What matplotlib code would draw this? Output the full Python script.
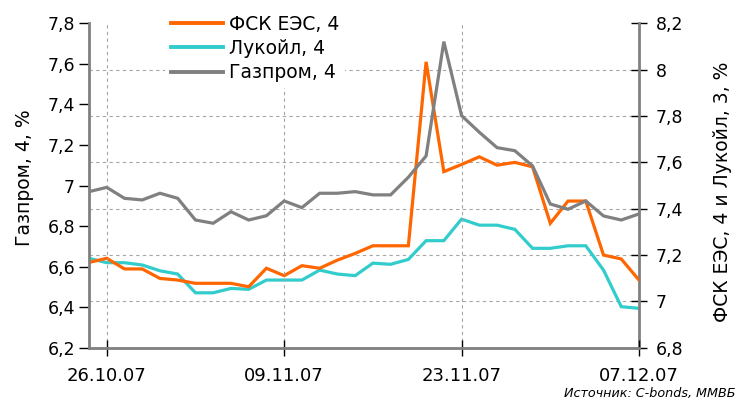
import matplotlib
matplotlib.use("Agg")
import matplotlib.pyplot as plt

plt.rcParams['font.family'] = ['DejaVu Sans']

# Trading days 25.10.07 .. 07.12.07 (32 points); ticks every 10 days
date_labels = ['26.10.07', '09.11.07', '23.11.07', '07.12.07']
tick_idx = [1, 11, 21, 31]

gazprom = [6.970, 6.991, 6.937, 6.929, 6.962, 6.937, 6.830, 6.814,
           6.871, 6.830, 6.851, 6.924, 6.891, 6.962, 6.962, 6.970,
           6.954, 6.954, 7.041, 7.146, 7.710, 7.345, 7.263, 7.187,
           7.172, 7.097, 6.909, 6.883, 6.924, 6.850, 6.830, 6.860]
fsk = [7.168, 7.186, 7.140, 7.140, 7.099, 7.092, 7.078, 7.078,
       7.078, 7.063, 7.143, 7.111, 7.154, 7.143, 7.178, 7.207,
       7.240, 7.240, 7.240, 8.034, 7.560, 7.591, 7.624, 7.588,
       7.600, 7.581, 7.337, 7.433, 7.433, 7.200, 7.183, 7.092]
lukoil = [7.186, 7.167, 7.167, 7.157, 7.132, 7.118, 7.037, 7.037,
          7.056, 7.052, 7.092, 7.092, 7.092, 7.135, 7.118, 7.111,
          7.165, 7.160, 7.181, 7.262, 7.262, 7.355, 7.329, 7.329,
          7.311, 7.229, 7.229, 7.240, 7.240, 7.135, 6.977, 6.970]

left_ticks = [6.2, 6.4, 6.6, 6.8, 7.0, 7.2, 7.4, 7.6, 7.8]
right_ticks = [6.8, 7.0, 7.2, 7.4, 7.6, 7.8, 8.0, 8.2]

def fmt(v):
    s = ('%.1f' % v)
    if s.endswith('.0'):
        s = s[:-2]
    return s.replace('.', ',')

C_ORANGE = '#FF6600'
C_CYAN = '#33CCCC'
C_GRAY = '#808080'

W, H = 736, 401
fig = plt.figure(figsize=(W/100, H/100), dpi=100)
ax = fig.add_axes([89/W, 1-347.7/H, (639-89)/W, (347.7-23.4)/H])
ax2 = ax.twinx()

x = list(range(len(gazprom)))

# gridlines
for t in tick_idx:
    ax.axvline(t, color='#A6A6A6', lw=0.8, ls=(0, (3, 3)), zorder=0)
for t in right_ticks[1:-1]:
    ax2.axhline(t, color='#A6A6A6', lw=0.8, ls=(0, (3, 3)), zorder=0)

l3, = ax.plot(x, gazprom, color=C_GRAY, lw=2.3, solid_joinstyle='miter', zorder=3)
l1, = ax2.plot(x, fsk, color=C_ORANGE, lw=2.3, solid_joinstyle='miter', zorder=3)
l2, = ax2.plot(x, lukoil, color=C_CYAN, lw=2.3, solid_joinstyle='miter', zorder=2)

ax.set_xlim(0, 31)
ax.set_ylim(6.2, 7.8)
ax2.set_ylim(6.8, 8.2)

ax.set_xticks(tick_idx)
ax.set_xticklabels(date_labels)
ax.set_yticks(left_ticks)
ax.set_yticklabels([fmt(v) for v in left_ticks])
ax2.set_yticks(right_ticks)
ax2.set_yticklabels([fmt(v) for v in right_ticks])

for a in (ax, ax2):
    a.spines['top'].set_visible(False)
    for s in ('left', 'right', 'bottom'):
        a.spines[s].set_color(C_GRAY)
        a.spines[s].set_linewidth(2)
ax.spines['right'].set_visible(False)
ax2.spines['left'].set_visible(False)
ax2.spines['bottom'].set_visible(False)

ax.tick_params(axis='y', direction='out', length=7, width=1, color='black',
               labelsize=12.5, pad=3)
ax.tick_params(axis='x', direction='inout', length=12, width=1, color='black',
               labelsize=13, pad=8)
ax2.tick_params(axis='y', direction='inout', length=12, width=1, color='black',
                labelsize=12.5, pad=6)

fig.text(24/W, 1 - 178/H, 'Газпром, 4, %', fontsize=13.5, rotation=90,
         ha='center', va='center')
fig.text(722/W, 1 - 192/H, 'ФСК ЕЭС, 4 и Лукойл, 3, %', fontsize=13.5,
         rotation=90, ha='center', va='center')

ax.set_zorder(ax2.get_zorder() + 1)
ax.patch.set_visible(False)

leg = fig.legend([l1, l2, l3], ['ФСК ЕЭС, 4', 'Лукойл, 4', 'Газпром, 4'],
                 loc='upper left', bbox_to_anchor=(165/W, 1 - 9/H),
                 fontsize=13.5, frameon=True, handlelength=2.8,
                 handletextpad=0.3, labelspacing=0.28, borderpad=0.3,
                 borderaxespad=0)
leg.get_frame().set_facecolor('white')
leg.get_frame().set_edgecolor('none')
leg.get_frame().set_alpha(1)
for h in leg.get_lines():
    h.set_linewidth(2.8)

fig.text(735/W, 1 - 394/H, 'Источник: C-bonds, ММВБ', fontsize=9.2,
         style='italic', ha='right', va='center')

fig.savefig('out.png', dpi=100)
